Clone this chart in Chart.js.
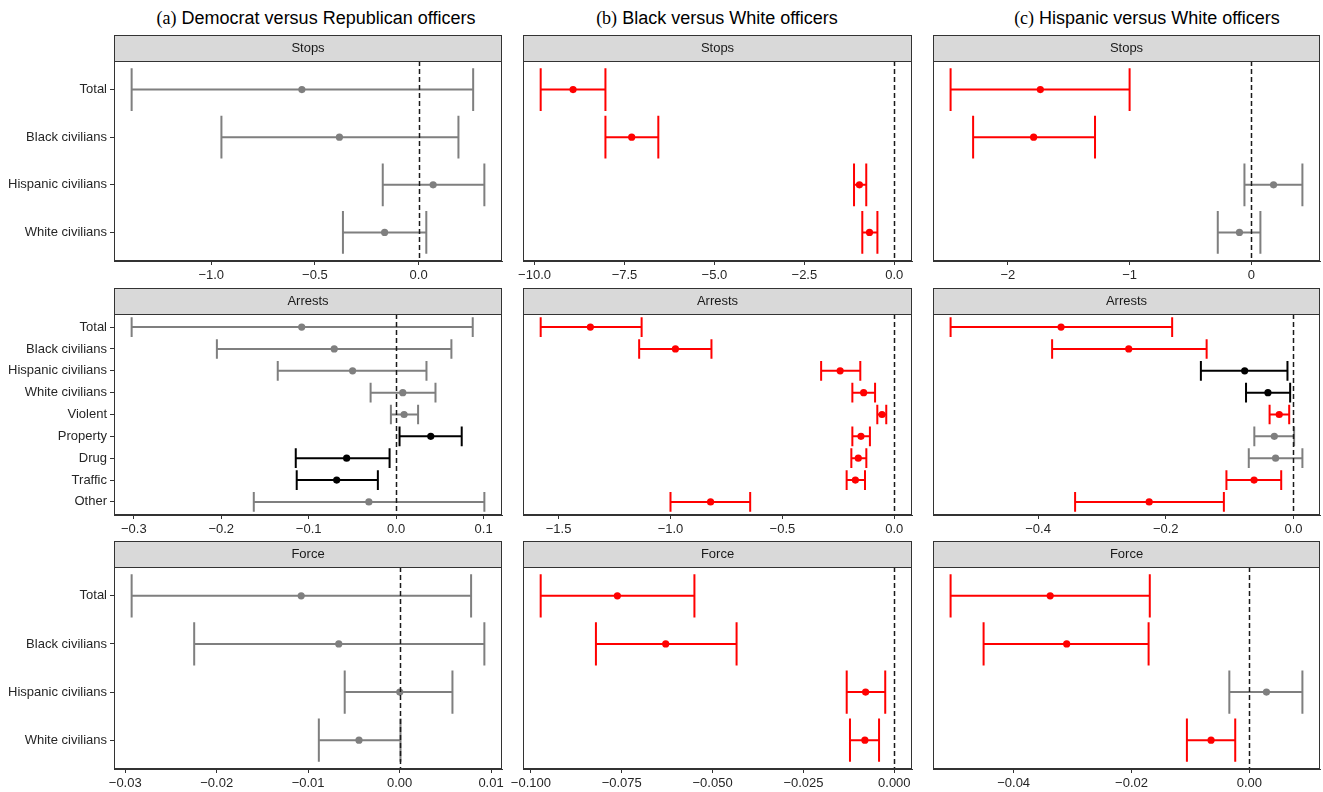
<!DOCTYPE html>
<html>
<head>
<meta charset="utf-8">
<script src="https://cdn.jsdelivr.net/npm/chart.js@4.4.1/dist/chart.umd.min.js"></script>
<style>
  body { margin: 0; background: #fff; width: 1323px; height: 792px; position: relative; overflow: hidden;
         font-family: 'Liberation Sans', Arial, sans-serif; }
  .title { position: absolute; top: 8px; font-size: 18px; line-height: 20px; color: #000;
           white-space: nowrap; transform: translateX(-50%); }
  .title .tag { font-family: 'Liberation Serif', 'Times New Roman', serif; }
  canvas { position: absolute; }
</style>
</head>
<body>
<div class="title" style="left:316px"><span class="tag">(a)</span> Democrat versus Republican officers</div>
<div class="title" style="left:717px"><span class="tag">(b)</span> Black versus White officers</div>
<div class="title" style="left:1147px"><span class="tag">(c)</span> Hispanic versus White officers</div>
<script>
// categories
const civCats = ['Total', 'Black civilians', 'Hispanic civilians', 'White civilians'];
const arrestCats = ['Total', 'Black civilians', 'Hispanic civilians', 'White civilians',
                    'Violent', 'Property', 'Drug', 'Traffic', 'Other'];

// significance: 2 = red, 1 = black, 0 = grey (not significant)

// (a) Democrat vs Republican
const demStopsEst = [-0.563, -0.382, 0.070, -0.164];
const demStopsLo  = [-1.384, -0.951, -0.173, -0.365];
const demStopsHi  = [0.263, 0.192, 0.317, 0.037];
const demStopsSig = [0, 0, 0, 0];

const demArrestsEst = [-0.108, -0.0708, -0.0498, 0.0076, 0.0091, 0.0396, -0.0566, -0.068, -0.0312];
const demArrestsLo  = [-0.3025, -0.205, -0.1354, -0.0292, -0.006, 0.0039, -0.1148, -0.1137, -0.1628];
const demArrestsHi  = [0.0876, 0.0632, 0.0347, 0.045, 0.0251, 0.075, -0.0075, -0.0209, 0.1009];
const demArrestsSig = [0, 0, 0, 0, 0, 1, 1, 1, 0];

const demForceEst = [-0.01076, -0.00665, 0.00002, -0.00444];
const demForceLo  = [-0.0293, -0.02246, -0.0060, -0.00883];
const demForceHi  = [0.00782, 0.00927, 0.00578, 0.0001];
const demForceSig = [0, 0, 0, 0];

// (b) Black vs White
const blkStopsEst = [-8.93, -7.30, -0.97, -0.69];
const blkStopsLo  = [-9.83, -8.03, -1.12, -0.89];
const blkStopsHi  = [-8.03, -6.56, -0.78, -0.47];
const blkStopsSig = [2, 2, 2, 2];

const blkArrestsEst = [-1.358, -0.978, -0.242, -0.137, -0.055, -0.149, -0.161, -0.174, -0.821];
const blkArrestsLo  = [-1.580, -1.140, -0.327, -0.1875, -0.076, -0.1875, -0.192, -0.213, -1.0];
const blkArrestsHi  = [-1.129, -0.817, -0.152, -0.086, -0.036, -0.109, -0.125, -0.131, -0.644];
const blkArrestsSig = [2, 2, 2, 2, 2, 2, 2, 2, 2];

const blkForceEst = [-0.0762, -0.0629, -0.0079, -0.0081];
const blkForceLo  = [-0.0973, -0.0821, -0.0131, -0.0122];
const blkForceHi  = [-0.0550, -0.0434, -0.0025, -0.0042];
const blkForceSig = [2, 2, 2, 2];

// (c) Hispanic vs White
const hisStopsEst = [-1.733, -1.788, 0.182, -0.098];
const hisStopsLo  = [-2.47, -2.285, -0.057, -0.276];
const hisStopsHi  = [-1.0, -1.284, 0.419, 0.074];
const hisStopsSig = [2, 2, 0, 0];

const hisArrestsEst = [-0.364, -0.258, -0.0764, -0.040, -0.0223, -0.030, -0.028, -0.0617, -0.226];
const hisArrestsLo  = [-0.537, -0.378, -0.145, -0.0743, -0.0374, -0.0613, -0.070, -0.105, -0.342];
const hisArrestsHi  = [-0.190, -0.136, -0.0094, -0.0052, -0.0067, 0.001, 0.014, -0.0192, -0.109];
const hisArrestsSig = [2, 2, 1, 1, 2, 0, 0, 2, 2];

const hisForceEst = [-0.0338, -0.0310, 0.0029, -0.0065];
const hisForceLo  = [-0.0507, -0.0451, -0.0034, -0.0106];
const hisForceHi  = [-0.0169, -0.0171, 0.0090, -0.0024];
const hisForceSig = [2, 2, 0, 2];

// x tick labels
const demStopsTicks   = ['−1.0', '−0.5', '0.0'];
const demArrestsTicks = ['−0.3', '−0.2', '−0.1', '0.0', '0.1'];
const demForceTicks   = ['−0.03', '−0.02', '−0.01', '0.00', '0.01'];
const blkStopsTicks   = ['−10.0', '−7.5', '−5.0', '−2.5', '0.0'];
const blkArrestsTicks = ['−1.5', '−1.0', '−0.5', '0.0'];
const blkForceTicks   = ['−0.100', '−0.075', '−0.050', '−0.025', '0.000'];
const hisStopsTicks   = ['−2', '−1', '0'];
const hisArrestsTicks = ['−0.4', '−0.2', '0.0'];
const hisForceTicks   = ['−0.04', '−0.02', '0.00'];

const stripLabels = ['Stops', 'Arrests', 'Force'];

const sigColors = ['#7f7f7f', '#000000', '#ff0000'];
const FONT = "'Liberation Sans', Arial, sans-serif";

// layout of the 3x3 grid
const plotLeft = [114, 523, 933];
const plotRight = [502, 912, 1320];
const stripTop = [35, 288, 541];
const plotBottom = [261, 515, 769];
const AXIS_H = 24;

const panels = [
  [0, 0, civCats, demStopsEst, demStopsLo, demStopsHi, demStopsSig, demStopsTicks],
  [1, 0, arrestCats, demArrestsEst, demArrestsLo, demArrestsHi, demArrestsSig, demArrestsTicks],
  [2, 0, civCats, demForceEst, demForceLo, demForceHi, demForceSig, demForceTicks],
  [0, 1, civCats, blkStopsEst, blkStopsLo, blkStopsHi, blkStopsSig, blkStopsTicks],
  [1, 1, arrestCats, blkArrestsEst, blkArrestsLo, blkArrestsHi, blkArrestsSig, blkArrestsTicks],
  [2, 1, civCats, blkForceEst, blkForceLo, blkForceHi, blkForceSig, blkForceTicks],
  [0, 2, civCats, hisStopsEst, hisStopsLo, hisStopsHi, hisStopsSig, hisStopsTicks],
  [1, 2, arrestCats, hisArrestsEst, hisArrestsLo, hisArrestsHi, hisArrestsSig, hisArrestsTicks],
  [2, 2, civCats, hisForceEst, hisForceLo, hisForceHi, hisForceSig, hisForceTicks],
];

const parseTick = s => parseFloat(s.replace('−', '-'));

// strip, error bars, zero line and panel border
const facetPlugin = {
  id: 'facet',
  beforeDraw(chart) {
    const {ctx, chartArea} = chart;
    const tb = chart.titleBlock;
    ctx.save();
    ctx.fillStyle = '#d9d9d9';
    ctx.fillRect(chartArea.left, tb.top, chartArea.right - chartArea.left, tb.bottom - tb.top);
    ctx.strokeStyle = '#333333';
    ctx.lineWidth = 1;
    ctx.strokeRect(chartArea.left + 0.5, tb.top + 0.5, chartArea.right - chartArea.left - 1, tb.bottom - tb.top);
    ctx.restore();
  },
  beforeDatasetsDraw(chart) {
    const {ctx, scales: {x, y}} = chart;
    const ds = chart.data.datasets[0];
    ctx.save();
    ctx.lineWidth = 2;
    ds.data.forEach((p, i) => {
      const x0 = x.getPixelForValue(p.lo);
      const x1 = x.getPixelForValue(p.hi);
      const yc = y.getPixelForValue(p.y);
      const h = Math.abs(y.getPixelForValue(p.y + 0.45) - yc);
      ctx.strokeStyle = ds.pointBackgroundColor[i];
      ctx.beginPath();
      ctx.moveTo(x0, yc); ctx.lineTo(x1, yc);
      ctx.moveTo(x0, yc - h); ctx.lineTo(x0, yc + h);
      ctx.moveTo(x1, yc - h); ctx.lineTo(x1, yc + h);
      ctx.stroke();
    });
    ctx.restore();
  },
  afterDatasetsDraw(chart) {
    const {ctx, chartArea, scales: {x}} = chart;
    const x0 = Math.round(x.getPixelForValue(0)) + 0.5;
    ctx.save();
    ctx.strokeStyle = '#1a1a1a';
    ctx.lineWidth = 1.5;
    ctx.setLineDash([5, 3]);
    ctx.beginPath();
    ctx.moveTo(x0, chartArea.top);
    ctx.lineTo(x0, chartArea.bottom);
    ctx.stroke();
    ctx.restore();
  },
  afterDraw(chart) {
    const {ctx, chartArea} = chart;
    ctx.save();
    ctx.strokeStyle = '#333333';
    ctx.lineWidth = 1;
    ctx.strokeRect(chartArea.left + 0.5, chartArea.top + 0.5,
                   chartArea.right - chartArea.left - 1, chartArea.bottom - chartArea.top - 1);
    ctx.restore();
  }
};

panels.forEach(([row, col, cats, est, lo, hi, sig, tickLabels]) => {
  const canvas = document.createElement('canvas');
  const left = col === 0 ? 0 : plotLeft[col] - 20;
  const width = plotRight[col] + 20 - left;
  const height = plotBottom[row] - stripTop[row] + AXIS_H;
  canvas.width = width;
  canvas.height = height;
  canvas.style.left = left + 'px';
  canvas.style.top = stripTop[row] + 'px';
  canvas.style.width = width + 'px';
  canvas.style.height = height + 'px';
  document.body.appendChild(canvas);

  const tickVals = tickLabels.map(parseTick);
  const lowest = Math.min(0, ...lo);
  const highest = Math.max(0, ...hi);
  const pad = (highest - lowest) * 0.05;
  const colors = sig.map(s => sigColors[s]);
  const showY = col === 0;

  new Chart(canvas.getContext('2d'), {
    type: 'scatter',
    data: {
      datasets: [{
        data: est.map((v, i) => ({x: v, y: i + 1, lo: lo[i], hi: hi[i]})),
        pointBackgroundColor: colors,
        pointBorderWidth: 0,
        pointRadius: 3.6,
        pointHoverRadius: 3.6
      }]
    },
    options: {
      responsive: false,
      animation: false,
      layout: { padding: { left: showY ? 0 : 20, right: 20, top: 0, bottom: 0 } },
      plugins: {
        legend: { display: false },
        tooltip: { enabled: false },
        title: {
          display: true,
          text: stripLabels[row],
          fullSize: false,
          color: '#1a1a1a',
          font: { family: FONT, size: 13, weight: 'normal', lineHeight: '16px' },
          padding: { top: 5, bottom: 5 }
        }
      },
      scales: {
        x: {
          type: 'linear',
          min: lowest - pad,
          max: highest + pad,
          afterBuildTicks: s => { s.ticks = tickVals.map(v => ({value: v})); },
          afterFit: s => { s.height = AXIS_H; },
          ticks: {
            callback: (v, i) => tickLabels[i],
            color: '#262626',
            font: { family: FONT, size: 13 },
            padding: 3,
            maxRotation: 0,
            autoSkip: false
          },
          grid: { drawOnChartArea: false, drawTicks: true, tickLength: 4, tickColor: '#333333', tickWidth: 1 },
          border: { display: true, color: '#333333' }
        },
        y: {
          type: 'linear',
          display: showY,
          reverse: true,
          min: 0.4,
          max: cats.length + 0.6,
          afterBuildTicks: s => { s.ticks = cats.map((c, i) => ({value: i + 1})); },
          afterFit: s => { s.width = showY ? plotLeft[0] : 0; },
          ticks: {
            callback: (v, i) => cats[i],
            color: '#262626',
            font: { family: FONT, size: 13 },
            padding: 3,
            autoSkip: false
          },
          grid: { drawOnChartArea: false, drawTicks: true, tickLength: 4, tickColor: '#333333', tickWidth: 1 },
          border: { display: true, color: '#333333' }
        }
      }
    },
    plugins: [facetPlugin]
  });
});
</script>
</body>
</html>
